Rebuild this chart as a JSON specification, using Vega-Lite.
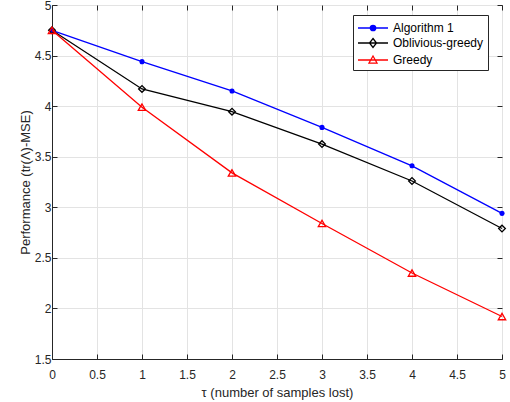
{
  "$schema": "https://vega.github.io/schema/vega-lite/v6.json",
  "width": 450,
  "height": 354,
  "autosize": "none",
  "padding": {"left": 52, "top": 5, "right": 8, "bottom": 43},
  "background": "white",
  "config": {
    "view": {"stroke": "#262626", "strokeWidth": 1},
    "font": "Liberation Sans",
    "axis": {
      "domainColor": "#262626",
      "tickColor": "#262626",
      "labelColor": "#262626",
      "titleColor": "#262626",
      "labelFont": "Liberation Sans",
      "titleFont": "Liberation Sans",
      "labelFontSize": 12,
      "titleFontSize": 13,
      "titleFontWeight": "normal",
      "gridColor": "#e3e3e3",
      "tickSize": -5,
      "domainWidth": 1
    },
    "legend": {
      "orient": "none",
      "legendX": 301,
      "legendY": 10,
      "strokeColor": "#262626",
      "fillColor": "white",
      "padding": 4,
      "symbolSize": 256,
      "symbolStrokeWidth": 1.3,
      "symbolOpacity": 1,
      "labelFont": "Liberation Sans",
      "labelFontSize": 12,
      "labelColor": "black",
      "labelOffset": 18,
      "rowPadding": 0
    }
  },
  "data": {
    "values": [
      {"tau": 0, "perf": 4.75, "series": "Algorithm 1"},
      {"tau": 1, "perf": 4.44, "series": "Algorithm 1"},
      {"tau": 2, "perf": 4.15, "series": "Algorithm 1"},
      {"tau": 3, "perf": 3.79, "series": "Algorithm 1"},
      {"tau": 4, "perf": 3.41, "series": "Algorithm 1"},
      {"tau": 5, "perf": 2.94, "series": "Algorithm 1"},
      {"tau": 0, "perf": 4.75, "series": "Oblivious-greedy"},
      {"tau": 1, "perf": 4.17, "series": "Oblivious-greedy"},
      {"tau": 2, "perf": 3.945, "series": "Oblivious-greedy"},
      {"tau": 3, "perf": 3.625, "series": "Oblivious-greedy"},
      {"tau": 4, "perf": 3.26, "series": "Oblivious-greedy"},
      {"tau": 5, "perf": 2.79, "series": "Oblivious-greedy"},
      {"tau": 0, "perf": 4.75, "series": "Greedy"},
      {"tau": 1, "perf": 3.99, "series": "Greedy"},
      {"tau": 2, "perf": 3.34, "series": "Greedy"},
      {"tau": 3, "perf": 2.84, "series": "Greedy"},
      {"tau": 4, "perf": 2.35, "series": "Greedy"},
      {"tau": 5, "perf": 1.92, "series": "Greedy"}
    ]
  },
  "resolve": {"axis": {"x": "independent", "y": "independent"}},
  "layer": [
    {
      "transform": [{"filter": "datum.series === 'Algorithm 1'"}],
      "mark": {"type": "line", "strokeWidth": 1.3, "color": "#0000ff", "point": {"shape": "circle", "filled": true, "size": 26, "color": "#0000ff"}},
      "encoding": {
        "x": {
          "field": "tau", "type": "quantitative",
          "scale": {"domain": [0, 5], "nice": false, "zero": false},
          "axis": {"values": [0, 0.5, 1, 1.5, 2, 2.5, 3, 3.5, 4, 4.5, 5], "format": "~g", "title": "τ (number of samples lost)", "labelPadding": 15, "titlePadding": 6, "labelFlush": false}
        },
        "y": {
          "field": "perf", "type": "quantitative",
          "scale": {"domain": [1.5, 5], "nice": false, "zero": false},
          "axis": {"values": [1.5, 2, 2.5, 3, 3.5, 4, 4.5, 5], "format": "~g", "title": "Performance (tr(Λ)-MSE)", "labelPadding": 6, "titlePadding": 2, "labelFlush": false}
        }
      }
    },
    {
      "transform": [{"filter": "datum.series === 'Oblivious-greedy'"}],
      "mark": {"type": "line", "strokeWidth": 1.3, "color": "#000000", "point": {"shape": "diamond", "filled": false, "size": 45, "strokeWidth": 1.3, "color": "#000000"}},
      "encoding": {
        "x": {"field": "tau", "type": "quantitative", "axis": null},
        "y": {"field": "perf", "type": "quantitative", "axis": null}
      }
    },
    {
      "transform": [{"filter": "datum.series === 'Greedy'"}],
      "mark": {"type": "line", "strokeWidth": 1.3, "color": "#ff0000", "point": {"shape": "triangle-up", "filled": false, "size": 55, "strokeWidth": 1.3, "color": "#ff0000"}},
      "encoding": {
        "x": {"field": "tau", "type": "quantitative", "axis": null},
        "y": {"field": "perf", "type": "quantitative", "axis": null}
      }
    },
    {
      "mark": {"type": "point", "opacity": 0, "strokeWidth": 1.3},
      "encoding": {
        "x": {
          "field": "tau", "type": "quantitative",
          "axis": {"orient": "top", "values": [0, 0.5, 1, 1.5, 2, 2.5, 3, 3.5, 4, 4.5, 5], "labels": false, "grid": false, "title": null, "domain": false}
        },
        "y": {
          "field": "perf", "type": "quantitative",
          "axis": {"orient": "right", "values": [1.5, 2, 2.5, 3, 3.5, 4, 4.5, 5], "labels": false, "grid": false, "title": null, "domain": false}
        },
        "color": {
          "field": "series", "type": "nominal",
          "scale": {"domain": ["Algorithm 1", "Oblivious-greedy", "Greedy"], "range": ["#0000ff", "#000000", "#ff0000"]},
          "legend": {"title": "\u2003", "titleOrient": "right", "titlePadding": 0}
        },
        "fill": {
          "field": "series", "type": "nominal",
          "scale": {"domain": ["Algorithm 1", "Oblivious-greedy", "Greedy"], "range": ["#0000ff", "#ffffff", "#ffffff"]},
          "legend": {"title": "\u2003", "titleOrient": "right", "titlePadding": 0}
        },
        "shape": {
          "field": "series", "type": "nominal",
          "scale": {
            "domain": ["Algorithm 1", "Oblivious-greedy", "Greedy"],
            "range": [
              "M-1,0H2.75M0.535,0A0.34,0.34 0 1,0 1.215,0A0.34,0.34 0 1,0 0.535,0Z",
              "M-1,0H2.75M0.875,-0.56L1.315,0L0.875,0.56L0.435,0Z",
              "M-1,0H2.75M0.875,-0.5L1.375,0.38L0.375,0.38Z"
            ]
          },
          "legend": {"title": "\u2003", "titleOrient": "right", "titlePadding": 0}
        }
      }
    }
  ]
}
